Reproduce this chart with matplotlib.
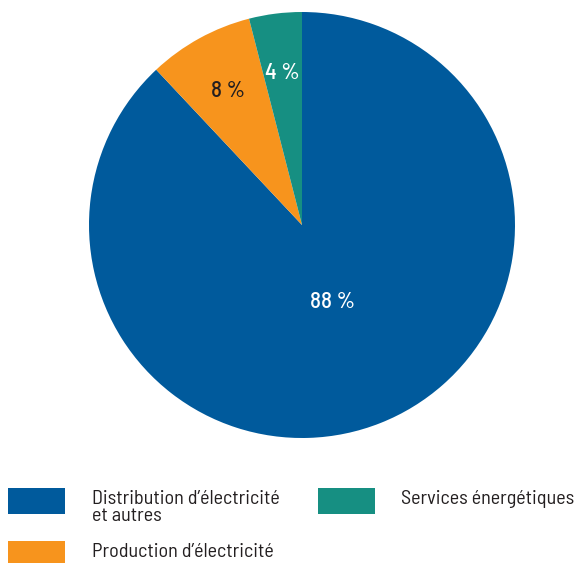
import numpy as np
import matplotlib
matplotlib.use('Agg')
import matplotlib.pyplot as plt
from matplotlib.patches import Rectangle

plt.rcParams['font.family'] = ['Barlow Semi Condensed', 'Liberation Sans', 'DejaVu Sans']

# data
labels = ['Distribution d\u2019électricité\net autres', 'Production d\u2019électricité', 'Services énergétiques']
shares = [88, 8, 4]
colors = ['#005a9c', '#f7941d', '#168f82']
pct_colors = ['white', '#231f20', 'white']

W, H = 580, 564
fig = plt.figure(figsize=(W / 100, H / 100), dpi=100)

# pie centred at (302, 225) px, radius 213 px
cx, cy, r = 302, 225, 213
ax = fig.add_axes([(cx - r) / W, 1 - (cy + r) / H, 2 * r / W, 2 * r / H])
wedges, texts = ax.pie(shares, colors=colors, startangle=90, counterclock=False,
                       wedgeprops=dict(linewidth=0))
ax.set_xlim(-1, 1)
ax.set_ylim(-1, 1)
ax.set_aspect('equal')
ax.axis('off')

for w, val, c in zip(wedges, shares, pct_colors):
    ang = np.deg2rad((w.theta1 + w.theta2) / 2)
    d = 0.39 if val > 50 else 0.72
    ax.text(d * np.cos(ang), d * np.sin(ang), f'{val}\u2009%', color=c,
            fontsize=16.5, fontweight='medium', ha='center', va='center')

# legend drawn by hand
def px(x, y):
    return x / W, 1 - y / H

entries = [
    (0, 8, 488, 92),
    (2, 318, 488, 401),
    (1, 8, 541, 92),
]
for i, x0, y0, tx in entries:
    hgt = 26 if y0 < 500 else 22
    fx, fy = px(x0, y0 + hgt)
    fig.add_artist(Rectangle((fx, fy), 57 / W, hgt / H, transform=fig.transFigure,
                             facecolor=colors[i], edgecolor='none'))
    tfx, tfy = px(tx, y0 + 2)
    fig.text(tfx, tfy, labels[i], fontsize=14.5, color='#231f20', ha='left', va='top',
             linespacing=0.92)

fig.savefig('out.png', dpi=100)
